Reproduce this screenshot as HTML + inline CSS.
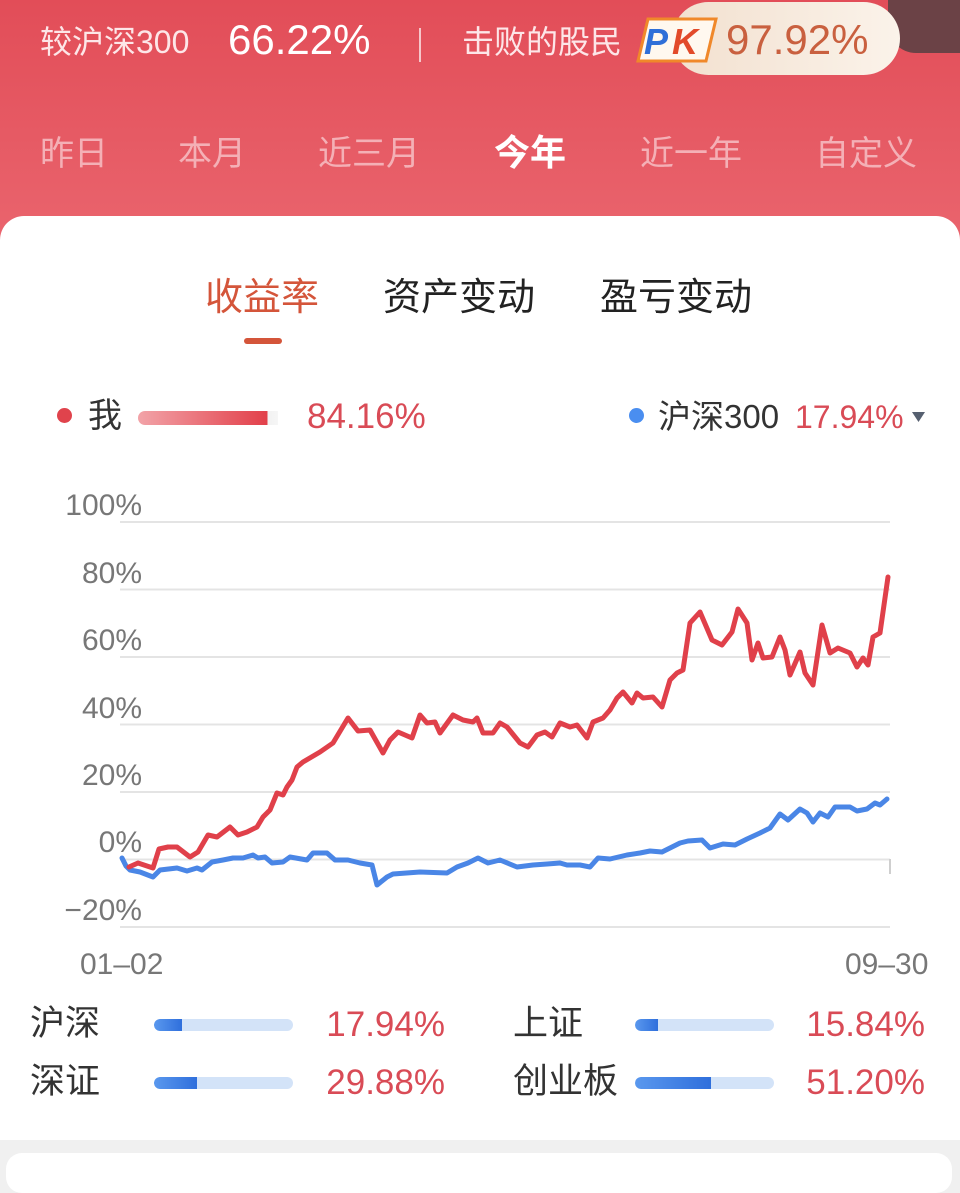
<!DOCTYPE html>
<html><head><meta charset="utf-8"><style>
*{margin:0;padding:0;box-sizing:border-box}
html,body{width:960px;height:1167px;overflow:hidden;background:#f0f0f0;font-family:"Liberation Sans","Noto Sans CJK SC",sans-serif}
.a{position:absolute;white-space:nowrap;line-height:1}
#hdr{position:absolute;left:0;top:0;width:960px;height:270px;background:linear-gradient(180deg,#e24d58 0%,#e65a64 50%,#eb6770 100%)}
#card{position:absolute;left:0;top:216px;width:960px;height:924px;background:#fff;border-radius:24px 24px 0 0}
#card2{position:absolute;left:6px;top:1153px;width:946px;height:40px;background:#fff;border-radius:16px}
.tab{font-size:34px;color:#f4b0b6}
.cn{color:#333}
.red{color:#d94b56}
.ax{font-size:30px;color:#777;text-align:right;width:90px}
.bar{position:absolute;height:12px;border-radius:6px;background:#d3e3f8;overflow:hidden}
.bar i{position:absolute;left:0;top:0;height:12px;border-radius:6px 0 0 6px;background:linear-gradient(90deg,#5a98ee,#2f6fdc)}
</style></head><body>
<div id="hdr"></div>
<div class="a" style="left:888px;top:-10px;width:90px;height:63px;background:#6b4246;border-radius:0 0 0 28px"></div>
<div class="a" style="left:40px;top:26px;font-size:32px;color:#fde6e8">较沪深300</div>
<div class="a" style="left:228px;top:19px;font-size:42px;color:#fff">66.22%</div>
<div class="a" style="left:419px;top:28px;width:2px;height:34px;background:#f6c6ca"></div>
<div class="a" style="left:462px;top:26px;font-size:32px;color:#fde6e8">击败的股民</div>
<div class="a" style="left:672px;top:2px;width:228px;height:73px;border-radius:37px;background:linear-gradient(90deg,#f2e0cf,#fbf3ea)"></div>
<svg class="a" style="left:636px;top:16px" width="82" height="48" viewBox="0 0 82 48">
<polygon points="12,3 80,3 70,45 2,45" fill="#fff8ef" stroke="#f0882a" stroke-width="3"/>
<text x="8" y="38" font-family="Liberation Sans" font-weight="bold" font-style="italic" font-size="36" fill="#2f6fd8">P</text>
<text x="36" y="38" font-family="Liberation Sans" font-weight="bold" font-style="italic" font-size="36" fill="#e24a2a">K</text>
</svg>
<div class="a" style="left:726px;top:19px;font-size:42px;color:#c9603f">97.92%</div>

<div class="a tab" style="left:40px;top:137px">昨日</div>
<div class="a tab" style="left:178px;top:137px">本月</div>
<div class="a tab" style="left:318px;top:137px">近三月</div>
<div class="a" style="left:494px;top:135px;font-size:36px;color:#fff;font-weight:bold">今年</div>
<div class="a tab" style="left:640px;top:137px">近一年</div>
<div class="a tab" style="left:815px;top:137px">自定义</div>

<div id="card"></div>
<div id="card2"></div>

<div class="a" style="left:205px;top:279px;font-size:38px;color:#d4553a">收益率</div>
<div class="a" style="left:383px;top:279px;font-size:38px;color:#222">资产变动</div>
<div class="a" style="left:600px;top:279px;font-size:38px;color:#222">盈亏变动</div>
<div class="a" style="left:244px;top:338px;width:38px;height:6px;border-radius:3px;background:#d4553a"></div>

<div class="a" style="left:57px;top:408px;width:15px;height:15px;border-radius:50%;background:#e0434c"></div>
<div class="a cn" style="left:88px;top:399px;font-size:34px">我</div>
<div class="a" style="left:138px;top:411px;width:140px;height:14px;border-radius:7px 0 0 7px;background:linear-gradient(90deg,#f2a3a8 0%,#e2404a 92%,#f2f2f2 93%,#f6f6f6 100%)"></div>
<div class="a red" style="left:307px;top:399px;font-size:35px">84.16%</div>
<div class="a" style="left:629px;top:408px;width:15px;height:15px;border-radius:50%;background:#4a8ef0"></div>
<div class="a cn" style="left:658px;top:400px;font-size:33px">沪深300</div>
<div class="a red" style="left:795px;top:401px;font-size:32px">17.94%</div>
<svg class="a" style="left:912px;top:411px" width="14" height="12"><polygon points="0,1 13,1 6.5,11" fill="#566070"/></svg>

<div class="a ax" style="left:52px;top:491px">100%</div>
<div class="a ax" style="left:52px;top:559px">80%</div>
<div class="a ax" style="left:52px;top:626px">60%</div>
<div class="a ax" style="left:52px;top:694px">40%</div>
<div class="a ax" style="left:52px;top:761px">20%</div>
<div class="a ax" style="left:52px;top:828px">0%</div>
<div class="a ax" style="left:52px;top:896px">−20%</div>
<div class="a" style="left:80px;top:950px;font-size:30px;color:#777">01–02</div>
<div class="a" style="left:845px;top:950px;font-size:30px;color:#777">09–30</div>

<svg class="a" style="left:0;top:0" width="960" height="1167">
<g stroke="#e4e4e4" stroke-width="2">
<line x1="120" y1="522" x2="890" y2="522"/>
<line x1="120" y1="589.5" x2="890" y2="589.5"/>
<line x1="120" y1="657" x2="890" y2="657"/>
<line x1="120" y1="724.5" x2="890" y2="724.5"/>
<line x1="120" y1="792" x2="890" y2="792"/>
<line x1="120" y1="859.5" x2="890" y2="859.5"/>
<line x1="120" y1="927" x2="890" y2="927"/>
<line x1="890" y1="859" x2="890" y2="874" stroke="#cfcfcf"/>
</g>
<polyline fill="none" stroke="#4a86e6" stroke-width="5" stroke-linejoin="round" stroke-linecap="round" points="122,858 126,866 130,870 140,872 153,877 160,870 177,868 187,871 197,868 202,870 212,862 223,860 233,858 243,858 253,855 258,858 265,857 272,863 283,862 290,857 307,860 313,853 327,853 335,860 348,860 360,863 372,865 377,885 387,877 393,874 420,872 447,873 457,867 468,863 478,858 488,863 500,860 517,867 533,865 547,864 560,863 567,865 580,865 590,867 598,858 610,859 627,855 640,853 650,851 662,852 680,843 688,841 702,840 710,848 723,844 735,845 747,839 760,833 770,828 780,814 788,820 800,809 807,813 813,822 820,813 828,817 835,807 850,807 857,811 867,809 875,803 880,805 887,799"/>
<polyline fill="none" stroke="#e0404a" stroke-width="5" stroke-linejoin="round" stroke-linecap="round" points="129,867 138,863 150,867 153,868 159,849 168,847 177,847 190,857 198,852 208,835 217,837 230,827 238,835 247,832 257,827 263,817 270,810 277,793 283,795 287,787 292,780 297,767 303,762 320,752 333,743 348,718 358,731 370,730 383,753 390,740 398,732 412,738 420,715 427,723 435,722 440,733 453,715 463,720 473,722 477,718 483,733 493,733 500,723 507,727 520,743 528,747 537,735 545,732 552,737 560,723 570,727 577,725 587,738 593,722 603,718 610,710 617,698 623,692 632,703 637,693 643,698 653,697 662,707 670,680 677,673 683,670 690,623 700,612 712,640 722,645 732,632 738,609 747,623 752,660 758,643 763,658 772,657 780,637 785,650 790,675 800,652 805,673 813,685 822,625 830,653 838,648 850,653 857,667 863,658 868,665 873,637 880,633 888,577"/>
</svg>

<div class="a cn" style="left:30px;top:1006px;font-size:35px">沪深</div>
<div class="bar" style="left:154px;top:1019px;width:139px"><i style="width:28px"></i></div>
<div class="a red" style="left:300px;top:1007px;width:145px;text-align:right;font-size:35px">17.94%</div>
<div class="a cn" style="left:513px;top:1006px;font-size:35px">上证</div>
<div class="bar" style="left:635px;top:1019px;width:139px"><i style="width:23px"></i></div>
<div class="a red" style="left:780px;top:1007px;width:145px;text-align:right;font-size:35px">15.84%</div>

<div class="a cn" style="left:30px;top:1064px;font-size:35px">深证</div>
<div class="bar" style="left:154px;top:1077px;width:139px"><i style="width:43px"></i></div>
<div class="a red" style="left:300px;top:1065px;width:145px;text-align:right;font-size:35px">29.88%</div>
<div class="a cn" style="left:513px;top:1064px;font-size:35px">创业板</div>
<div class="bar" style="left:635px;top:1077px;width:139px"><i style="width:76px"></i></div>
<div class="a red" style="left:780px;top:1065px;width:145px;text-align:right;font-size:35px">51.20%</div>
</body></html>
